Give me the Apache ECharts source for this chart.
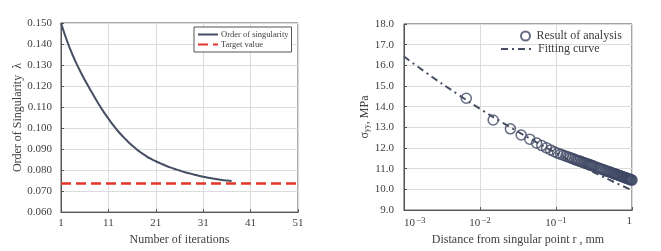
<!DOCTYPE html>
<html><head><meta charset="utf-8">
<script src="https://cdn.jsdelivr.net/npm/echarts@6/dist/echarts.min.js"></script>
<style>html,body{margin:0;padding:0;background:#fff}#c{width:661px;height:251px}</style>
</head><body><div id="c"></div>
<script>
// Left chart: order of singularity vs iteration
const iterations = [1,2,3,4,5,6,7,8,9,10,11,12,13,14,15,16,17,18,19,20,21,22,23,24,25,26,27,28,29,30,31,32,33,34,35,36,37];
const singularity = [0.1500,0.1432,0.1372,0.1320,0.1273,0.1230,0.1190,0.1150,0.1112,0.1077,0.1045,0.1014,0.0986,0.0961,0.0938,0.0917,0.0898,0.0881,0.0866,0.0853,0.0842,0.0832,0.0822,0.0813,0.0805,0.0798,0.0791,0.0785,0.0779,0.0773,0.0768,0.0764,0.0760,0.0756,0.0753,0.0750,0.0748];
const targetValue = 0.0736;
const iterRange = [1, 51];

// Right chart: stress vs distance
const rValues = [0.0066,0.0149,0.0251,0.0348,0.0452,0.0555,0.065,0.075,0.085,0.095,0.105,0.115,0.125,0.135,0.145,0.155,0.165,0.175,0.185,0.195,0.205,0.215,0.225,0.235,0.245,0.255,0.265,0.275,0.285,0.295,0.305,0.32,0.34,0.36,0.38,0.40,0.42,0.44,0.46,0.48,0.50,0.52,0.54,0.56,0.58,0.60,0.62,0.64,0.66,0.68,0.70,0.72,0.74,0.76,0.78,0.80,0.82,0.84,0.86,0.88,0.90,0.92,0.94,0.96,0.98,1.00];
const sigmaValues = [14.41,13.36,12.93,12.63,12.43,12.25,12.12,12.01,11.91,11.82,11.75,11.70,11.65,11.61,11.57,11.53,11.49,11.46,11.42,11.39,11.37,11.34,11.31,11.29,11.26,11.24,11.22,11.20,11.18,11.16,11.14,11.11,11.07,11.04,11.01,10.98,10.95,10.92,10.90,10.87,10.85,10.83,10.81,10.78,10.76,10.74,10.73,10.71,10.69,10.67,10.66,10.64,10.62,10.61,10.59,10.58,10.56,10.55,10.54,10.52,10.51,10.50,10.49,10.47,10.46,10.45];
const fitR = [0.001,0.002,0.005,0.01,0.02,0.05,0.1,0.2,0.5,1.0];
const fitSigma = [16.43,15.62,14.62,13.90,13.22,12.37,11.76,11.19,10.47,9.96];
const logTickLabels = {'0.001':'10{s|−3}','0.01':'10{s|−2}','0.1':'10{s|−1}','1':'1'};

const FONT = 'Liberation Serif';
const TXT = '#404040';
const GRIDC = '#dcdcdc';
const DARK = '#464e62';

const chart = echarts.init(document.getElementById('c'), null, {renderer:'canvas'});
const axisCommon = {
  axisLine:{show:true, lineStyle:{color:'#555', width:1}},
  axisTick:{show:true, inside:true, length:3, lineStyle:{color:'#555'}},
  splitLine:{show:true, lineStyle:{color:GRIDC, width:1}},
  nameTextStyle:{fontFamily:FONT, fontSize:12, color:TXT}
};
chart.setOption({
  animation:false,
  grid:[
    {left:61, top:23, width:237, height:196, show:true, borderColor:'#555', borderWidth:1},
    {left:404, top:24, width:228, height:197, show:true, borderColor:'#444', borderWidth:1}
  ],
  xAxis:[
    Object.assign({}, axisCommon, {gridIndex:0, type:'value', min:iterRange[0], max:iterRange[1], interval:10,
      name:'Number of iterations', nameLocation:'middle', nameGap:20,
      axisLabel:{fontFamily:FONT, fontSize:11, color:TXT, margin:6}}),
    Object.assign({}, axisCommon, {gridIndex:1, type:'log', logBase:10, min:0.001, max:1,
      name:'Distance from singular point r , mm', nameLocation:'middle', nameGap:21,
      axisLabel:{fontFamily:FONT, fontSize:11, color:TXT, margin:6,
        alignMinLabel:'left', alignMaxLabel:'right',
        formatter:function(v){ const k = String(+v.toPrecision(3)); return logTickLabels[k] !== undefined ? logTickLabels[k] : ''; },
        rich:{s:{fontSize:9, fontFamily:FONT, color:TXT, padding:[0,0,6,1]}}}})
  ],
  yAxis:[
    Object.assign({}, axisCommon, {gridIndex:0, type:'value', min:0.06, max:0.15, interval:0.01,
      name:'Order of Singularity  λ', nameLocation:'middle', nameGap:37, nameRotate:90,
      axisLabel:{fontFamily:FONT, fontSize:11, color:TXT, margin:9, formatter:function(v){return v.toFixed(3);}}}),
    Object.assign({}, axisCommon, {gridIndex:1, type:'value', min:9, max:18, interval:1,
      name:'{a|σ}{b|yy}{a|, MPa}', nameLocation:'middle', nameGap:30, nameRotate:90,
      nameTextStyle:{fontFamily:FONT, fontSize:12, color:TXT,
        rich:{a:{fontFamily:FONT, fontSize:12, color:TXT}, b:{fontFamily:FONT, fontSize:8, color:TXT, padding:[5,0,0,0]}}},
      axisLabel:{fontFamily:FONT, fontSize:11, color:TXT, margin:10, formatter:function(v){return v.toFixed(1);}}})
  ],
  legend:[
    {left:194, top:27, orient:'vertical', itemWidth:20, itemHeight:9, itemGap:1,
      padding:[3,3,3,3], borderColor:'#555', borderWidth:1, backgroundColor:'#fff',
      itemStyle:{opacity:0},
      textStyle:{fontFamily:FONT, fontSize:8.5, color:TXT, padding:[0,0,0,-2]},
      data:['Order of singularity','Target value']},
    {left:520, top:30, itemWidth:12, itemHeight:9, padding:0, itemGap:4,
      textStyle:{fontFamily:FONT, fontSize:12, color:TXT},
      data:['Result of analysis']},
    {left:500, top:43, itemWidth:32, itemHeight:9, padding:0,
      itemStyle:{opacity:0},
      textStyle:{fontFamily:FONT, fontSize:12, color:TXT},
      data:['Fitting curve']}
  ],
  series:[
    {name:'Order of singularity', type:'line', xAxisIndex:0, yAxisIndex:0, symbol:'none', smooth:true,
      lineStyle:{color:DARK, width:2}, itemStyle:{color:DARK},
      data: iterations.map((x,i)=>[x, singularity[i]])},
    {name:'Target value', type:'line', xAxisIndex:0, yAxisIndex:0, symbol:'none',
      lineStyle:{color:'#e2352b', width:2.5, type:[10,5]}, itemStyle:{color:'#e2352b'},
      data: iterRange.map(x=>[x, targetValue])},
    {name:'Result of analysis', type:'scatter', xAxisIndex:1, yAxisIndex:1, symbol:'circle', symbolSize:10,
      itemStyle:{color:'rgba(0,0,0,0)', borderColor:'#3e4964', borderWidth:1.5},
      data: rValues.map((x,i)=>[x, sigmaValues[i]])},
    {name:'Fitting curve', type:'line', xAxisIndex:1, yAxisIndex:1, symbol:'none', smooth:true,
      lineStyle:{color:DARK, width:2, type:[7,4,2,4]}, itemStyle:{color:DARK},
      data: fitR.map((x,i)=>[x, fitSigma[i]])}
  ]
});
</script></body></html>
